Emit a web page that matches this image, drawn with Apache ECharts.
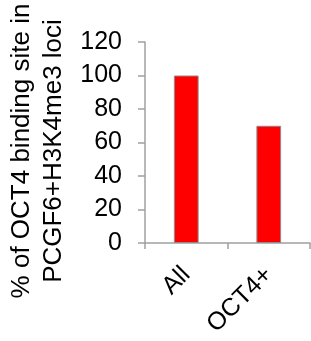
<!DOCTYPE html>
<html>
<head>
<meta charset="utf-8">
<script src="https://cdn.jsdelivr.net/npm/echarts@6/dist/echarts.min.js"></script>
<style>
  html, body { margin: 0; padding: 0; background: #fff; }
  #chart { width: 311px; height: 341px; }
</style>
</head>
<body>
<div id="chart"></div>
<script>
// data
var categories = ['All', 'OCT4+'];
var percentValues = [100, 70];
var yTitleLines = ['% of OCT4 binding site in', 'PCGF6+H3K4me3 loci'];

var font = '"Liberation Sans", Arial, sans-serif';
var axisGray = '#a0a0a0';

var myChart = echarts.init(document.getElementById('chart'));
var option = {
  animation: false,
  backgroundColor: '#fff',
  grid: {
    left: 145,
    right: 1,
    top: 42,
    bottom: 98
  },
  xAxis: {
    type: 'category',
    data: categories,
    boundaryGap: true,
    axisLine: { lineStyle: { color: axisGray, width: 1.5 } },
    axisTick: { show: true, length: 6, lineStyle: { color: axisGray, width: 1.5 } },
    axisLabel: {
      rotate: 45,
      margin: 28,
      color: '#000',
      fontSize: 25,
      fontFamily: font
    }
  },
  yAxis: {
    type: 'value',
    min: 0,
    max: 120,
    interval: 20,
    axisLine: { show: true, lineStyle: { color: axisGray, width: 1.5 } },
    axisTick: { show: true, length: 7, lineStyle: { color: axisGray, width: 1.5 } },
    splitLine: { show: false },
    axisLabel: {
      margin: 23,
      color: '#000',
      fontSize: 25,
      fontFamily: font
    }
  },
  graphic: [{
    type: 'text',
    x: 38,
    y: 151,
    rotation: Math.PI / 2,
    style: {
      text: yTitleLines.join('\n'),
      fill: '#000',
      font: '26px ' + font,
      lineHeight: 32,
      align: 'center',
      verticalAlign: 'middle'
    }
  }],
  series: [{
    type: 'bar',
    data: percentValues,
    barWidth: '30%',
    itemStyle: {
      color: '#ff0000',
      borderColor: '#8c8c8c',
      borderWidth: 1
    }
  }]
};
myChart.setOption(option);
</script>
</body>
</html>
